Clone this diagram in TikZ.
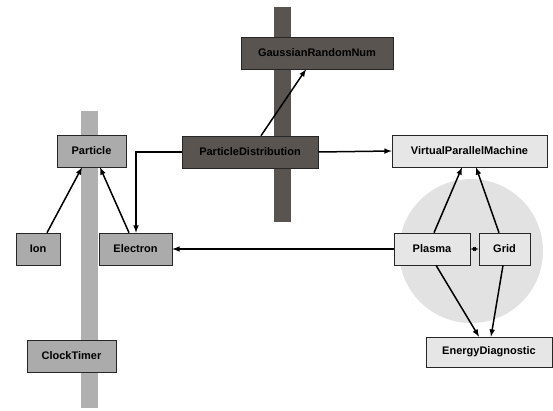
\documentclass[tikz,border=0pt]{standalone}
\usepackage{fontspec}
\setmainfont{Liberation Sans}
\usetikzlibrary{arrows}
\newcommand{\ClassArrowType}{latex}
\definecolor{lightcls}{HTML}{ABABAB}
\definecolor{darkcls}{HTML}{5A5451}
\definecolor{palecls}{HTML}{E6E6E6}
\definecolor{barlight}{HTML}{B0B0B0}
\definecolor{circfill}{HTML}{E2E2E2}

\begin{document}
\begin{tikzpicture}[>=\ClassArrowType, x=1pt, y=-1pt,
		cls/.style={draw=black!85, line width=0.6pt, minimum height=32pt, inner sep=0pt,
			font=\fontsize{11}{13}\selectfont\bfseries},
		lightbox/.style={cls, fill=lightcls},
		darkbox/.style={cls, fill=darkcls},
		palebox/.style={cls, fill=palecls},
		link/.style={line width=1.5pt}]
				\useasboundingbox (0,0) rectangle (553,411);
				% bars and circle behind the classes
				\fill[barlight] (81,111) rectangle (98,408);
				\fill[darkcls] (274,7) rectangle (291,222);
				\fill[circfill] (471,251) circle (72pt);
				% classes
				\node[lightbox, minimum width=69pt] (particle) at (91.5,151) {Particle};
				\node[lightbox, minimum width=44pt] (ion) at (38,249) {Ion};
				\node[lightbox, minimum width=73pt] (electron) at (135.5,249) {Electron};
				\node[lightbox, minimum width=89pt] (clock) at (71.5,356) {ClockTimer};
				\node[darkbox, minimum width=152pt] (gauss) at (317,53) {GaussianRandomNum};
				\node[darkbox, minimum width=136pt] (pdist) at (250,152) {ParticleDistribution};
				\node[palebox, minimum width=155pt] (vpm) at (469.5,151) {VirtualParallelMachine};
				\node[palebox, minimum width=76pt] (plasma) at (432,249) {Plasma};
				\node[palebox, minimum width=51pt] (grid) at (504.5,249) {Grid};
				\node[palebox, minimum width=126pt, minimum height=30pt] (energy) at (489,352) {EnergyDiagnostic};
				% links
				\draw[->,link] ([xshift=9pt]ion.north) -- ([xshift=-9.5pt]particle.south);
				\draw[->,link] ([xshift=-6.5pt]electron.north) -- ([xshift=8.5pt]particle.south);
				\draw[->,link] (pdist.west) -| ([xshift=0.5pt]electron.north);
				\draw[->,link] ([xshift=11pt]pdist.north) -- ([xshift=-11pt]gauss.south);
				\draw[->,link] (pdist.east) -- (vpm.west);
				\draw[->,link] (plasma.west) -- (electron.east);
				\draw[->,link] ([xshift=2pt]plasma.north) -- ([xshift=-7.5pt]vpm.south);
				\draw[->,link] ([xshift=-5.5pt]grid.north) -- ([xshift=6.5pt]vpm.south);
				\draw[<->,link,line width=0.9pt] (plasma.east) -- (grid.west);
				\draw[->,link] ([xshift=4pt]plasma.south) -- ([xshift=-10pt]energy.north);
				\draw[->,link] ([xshift=-1.5pt]grid.south) -- ([xshift=2pt]energy.north);
		\end{tikzpicture}
\end{document}
